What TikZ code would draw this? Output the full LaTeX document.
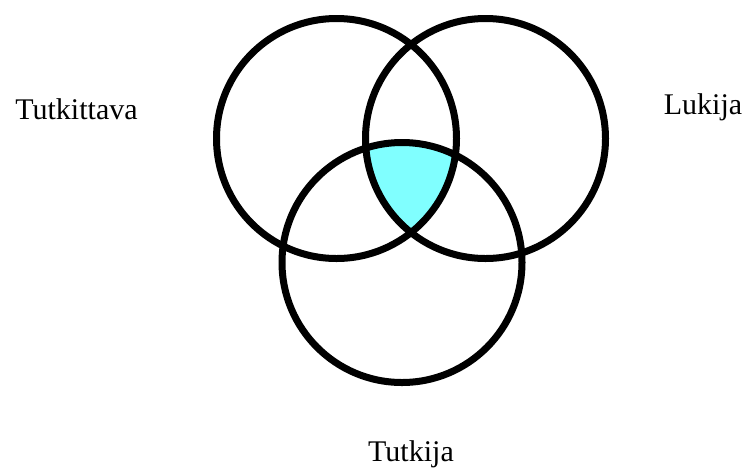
\documentclass[tikz,border=0pt]{standalone}
\usepackage{fontspec}
\setmainfont{Liberation Serif}
\definecolor{venncyan}{RGB}{128,255,255}
\usetikzlibrary{positioning}

\begin{document}
\begin{tikzpicture}[x=1pt, y=-1pt,
    ring/.style={draw=black, line width=7pt},
    setlabel/.style={anchor=base, inner sep=0pt, font=\fontsize{30}{36}\selectfont}]
  \useasboundingbox (0,0) rectangle (747,467);

  % Circle centres
  \coordinate (cl) at (336.5,138.5);
  \coordinate (cr) at (485.5,138.5);
  \coordinate (cb) at (402,262.5);

  % Common part of all three
  \begin{scope}
    \clip (cl) circle (120);
    \clip (cr) circle (120);
    \fill[venncyan] (cb) circle (120);
  \end{scope}

  % Circles
  \draw[ring] (cl) circle (120);
  \draw[ring] (cr) circle (120);
  \draw[ring] (cb) circle (120);

  % Labels
  \node[setlabel] (tutkittava) at (76.5,119) {Tutkittava};
  \node[setlabel] (lukija) at (703,114) {Lukija};
  \node[setlabel] (tutkija) at (411,461) {Tutkija};
\end{tikzpicture}
\end{document}
